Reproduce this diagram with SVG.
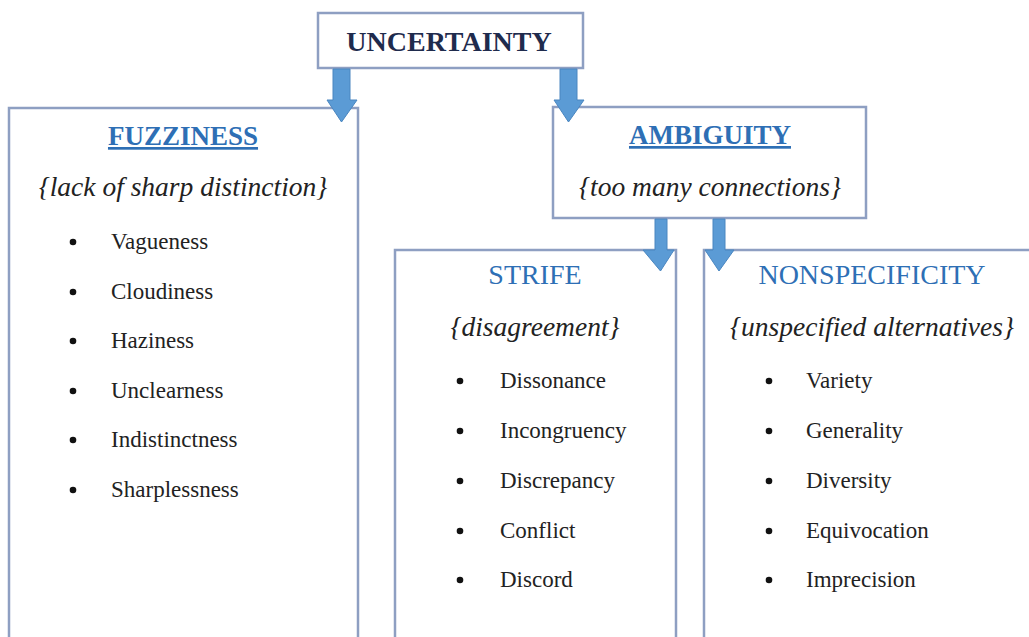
<svg xmlns="http://www.w3.org/2000/svg" width="1029" height="637" viewBox="0 0 1029 637">
<style>
.box{fill:#fff;stroke:#8e9fc2;stroke-width:2.5}
.arrow{fill:#5b9bd5;stroke:#4a86c0;stroke-width:1}
.title{font-family:"Liberation Serif",serif;font-weight:bold;font-size:28px;fill:#1f2b4d;text-anchor:middle}
.head{font-family:"Liberation Serif",serif;font-weight:bold;font-size:27px;fill:#2e6fb5;text-anchor:middle;text-decoration:underline}
.sub{font-family:"Liberation Serif",serif;font-size:28px;fill:#2e6fb5;text-anchor:middle}
.desc{font-family:"Liberation Serif",serif;font-style:italic;font-size:27.5px;fill:#222;text-anchor:middle}
.item{font-family:"Liberation Serif",serif;font-size:23px;fill:#222}
.dot{fill:#111}
</style>
<rect width="1029" height="637" fill="#fff"/>
<g id="uncertainty">
<rect class="box" x="318" y="13" width="265" height="55"/>
<text class="title" x="449" y="51">UNCERTAINTY</text>
</g>
<g id="fuzziness">
<rect class="box" x="9" y="108" width="349" height="540"/>
<text class="head" x="183" y="145">FUZZINESS</text>
<text class="desc" x="183" y="196">{lack of sharp distinction}</text>
<g class="item">
<circle class="dot" cx="73" cy="242" r="3.3"/><text x="111" y="249">Vagueness</text>
<circle class="dot" cx="73" cy="292" r="3.3"/><text x="111" y="299">Cloudiness</text>
<circle class="dot" cx="73" cy="341" r="3.3"/><text x="111" y="348">Haziness</text>
<circle class="dot" cx="73" cy="391" r="3.3"/><text x="111" y="398">Unclearness</text>
<circle class="dot" cx="73" cy="440" r="3.3"/><text x="111" y="447">Indistinctness</text>
<circle class="dot" cx="73" cy="490" r="3.3"/><text x="111" y="497">Sharplessness</text>
</g>
</g>
<g id="ambiguity">
<rect class="box" x="553" y="107" width="313" height="111"/>
<text class="head" x="710" y="144">AMBIGUITY</text>
<text class="desc" x="710" y="196">{too many connections}</text>
</g>
<g id="strife">
<rect class="box" x="395" y="250" width="281" height="400"/>
<text class="sub" x="535" y="284">STRIFE</text>
<text class="desc" x="535" y="336">{disagreement}</text>
<g class="item">
<circle class="dot" cx="460" cy="381" r="3.3"/><text x="500" y="388">Dissonance</text>
<circle class="dot" cx="460" cy="431" r="3.3"/><text x="500" y="438">Incongruency</text>
<circle class="dot" cx="460" cy="481" r="3.3"/><text x="500" y="488">Discrepancy</text>
<circle class="dot" cx="460" cy="531" r="3.3"/><text x="500" y="538">Conflict</text>
<circle class="dot" cx="460" cy="580" r="3.3"/><text x="500" y="587">Discord</text>
</g>
</g>
<g id="nonspecificity">
<rect class="box" x="704" y="250" width="340" height="400"/>
<text class="sub" x="872" y="284">NONSPECIFICITY</text>
<text class="desc" x="872" y="336">{unspecified alternatives}</text>
<g class="item">
<circle class="dot" cx="769" cy="381" r="3.3"/><text x="806" y="388">Variety</text>
<circle class="dot" cx="769" cy="431" r="3.3"/><text x="806" y="438">Generality</text>
<circle class="dot" cx="769" cy="481" r="3.3"/><text x="806" y="488">Diversity</text>
<circle class="dot" cx="769" cy="531" r="3.3"/><text x="806" y="538">Equivocation</text>
<circle class="dot" cx="769" cy="580" r="3.3"/><text x="806" y="587">Imprecision</text>
</g>
</g>
<g id="connectors">
<path class="arrow" d="M333,69 H350 V100 H357 L341.5,122 L327,100 H333 Z"/>
<path class="arrow" d="M560,69 H577 V100 H584 L568.5,122 L554,100 H560 Z"/>
<path class="arrow" d="M655,219 H667 V250 H674 L660.5,271 L643,250 H655 Z"/>
<path class="arrow" d="M713,219 H725 V250 H734 L719,271 L705,250 H713 Z"/>
</g>
</svg>
